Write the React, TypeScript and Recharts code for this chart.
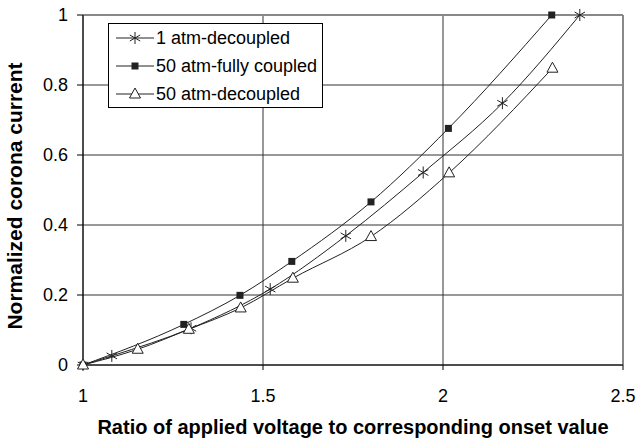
import React from "react";
import {
  LineChart,
  Line,
  XAxis,
  YAxis,
  CartesianGrid,
  ReferenceLine,
} from "recharts";

const atm1Ratio = [1, 1.08, 1.3, 1.52, 1.73, 1.945, 2.165, 2.38];
const atm1Current = [0, 0.026, 0.105, 0.217, 0.369, 0.55, 0.748, 1.0];

const coupledRatio = [1, 1.28, 1.436, 1.58, 1.8, 2.015, 2.302];
const coupledCurrent = [0, 0.116, 0.199, 0.296, 0.466, 0.676, 1.0];

const decoupledRatio = [1, 1.152, 1.294, 1.438, 1.583, 1.8, 2.017, 2.304];
const decoupledCurrent = [0, 0.045, 0.102, 0.163, 0.248, 0.367, 0.549, 0.848];

const xTicks = [1, 1.5, 2, 2.5];
const yTicks = [0, 0.2, 0.4, 0.6, 0.8, 1];

const toPoints = (xs: number[], ys: number[]) =>
  xs.map((x, i) => ({ ratio: x, current: ys[i] }));

const atm1 = toPoints(atm1Ratio, atm1Current);
const coupled = toPoints(coupledRatio, coupledCurrent);
const decoupled = toPoints(decoupledRatio, decoupledCurrent);

const INK = "#222";
const FONT = "'Liberation Sans', Arial, sans-serif";

const Star = ({ cx, cy }: any) => {
  if (cx == null || cy == null) return null;
  const r = 6;
  const dx = r * 0.866;
  const dy = r * 0.5;
  return (
    <g stroke={INK} strokeWidth={1}>
      <line x1={cx} y1={cy - r} x2={cx} y2={cy + r} />
      <line x1={cx - dx} y1={cy - dy} x2={cx + dx} y2={cy + dy} />
      <line x1={cx - dx} y1={cy + dy} x2={cx + dx} y2={cy - dy} />
    </g>
  );
};

const Square = ({ cx, cy }: any) => {
  if (cx == null || cy == null) return null;
  return <rect x={cx - 3.5} y={cy - 3.5} width={7} height={7} fill={INK} />;
};

const Triangle = ({ cx, cy }: any) => {
  if (cx == null || cy == null) return null;
  return (
    <polygon
      points={`${cx},${cy - 6} ${cx - 5.5},${cy + 4} ${cx + 5.5},${cy + 4}`}
      fill="#fff"
      stroke={INK}
      strokeWidth={1}
    />
  );
};

const legendRows = [
  { name: "1 atm-decoupled", Marker: Star },
  { name: "50 atm-fully coupled", Marker: Square },
  { name: "50 atm-decoupled", Marker: Triangle },
];

const LegendBox = () => (
  <div
    style={{
      position: "absolute",
      left: 108,
      top: 23,
      width: 215,
      height: 85,
      border: "1px solid #000",
      background: "#fff",
      boxSizing: "border-box",
      fontFamily: FONT,
      fontSize: 18,
      color: "#000",
    }}
  >
    {legendRows.map((row, i) => (
      <div
        key={row.name}
        style={{
          position: "absolute",
          left: 6,
          top: 2 + i * 28,
          height: 24,
          display: "flex",
          alignItems: "center",
          whiteSpace: "nowrap",
        }}
      >
        <svg width={40} height={24}>
          <line x1={1} y1={12} x2={39} y2={12} stroke={INK} strokeWidth={1} />
          <row.Marker cx={20} cy={12} />
        </svg>
        <span style={{ marginLeft: 1 }}>{row.name}</span>
      </div>
    ))}
  </div>
);

export default function App() {
  return (
    <div
      style={{
        position: "absolute",
        left: 0,
        top: 0,
        width: 639,
        height: 441,
        background: "#fff",
      }}
    >
      <LineChart
        width={639}
        height={441}
        margin={{ top: 15, right: 16, left: 0, bottom: 0 }}
      >
        <CartesianGrid stroke="#333" strokeWidth={1} />
        <XAxis
          dataKey="ratio"
          type="number"
          domain={[1, 2.5]}
          ticks={xTicks}
          height={76}
          stroke="#000"
          tickSize={5}
          tickMargin={19}
          tick={{ fill: "#000", fontSize: 18, fontFamily: FONT }}
          label={{
            value: "Ratio of applied voltage to corresponding onset value",
            position: "insideBottom",
            offset: 7,
            fill: "#000",
            fontSize: 20,
            fontWeight: "bold",
            fontFamily: FONT,
          }}
        />
        <YAxis
          type="number"
          domain={[0, 1]}
          ticks={yTicks}
          width={83}
          stroke="#000"
          tickSize={6}
          tickMargin={9}
          tick={{ fill: "#000", fontSize: 18, fontFamily: FONT }}
          label={{
            content: ({ viewBox }: any) => {
              const cx = (viewBox?.x ?? 0) + 22;
              const cy = 196;
              return (
                <text
                  x={cx}
                  y={cy}
                  transform={`rotate(-90 ${cx} ${cy})`}
                  textAnchor="middle"
                  fill="#000"
                  fontSize={21}
                  fontWeight="bold"
                  fontFamily={FONT}
                >
                  Normalized corona current
                </text>
              );
            },
          }}
        />
        <ReferenceLine y={1} stroke="#888" strokeWidth={2} />
        <ReferenceLine x={2.5} stroke="#888" strokeWidth={2} />
        <Line
          data={atm1}
          dataKey="current"
          name="1 atm-decoupled"
          type="monotone"
          stroke={INK}
          strokeWidth={1}
          dot={<Star />}
          isAnimationActive={false}
        />
        <Line
          data={coupled}
          dataKey="current"
          name="50 atm-fully coupled"
          type="monotone"
          stroke={INK}
          strokeWidth={1}
          dot={<Square />}
          isAnimationActive={false}
        />
        <Line
          data={decoupled}
          dataKey="current"
          name="50 atm-decoupled"
          type="monotone"
          stroke={INK}
          strokeWidth={1}
          dot={<Triangle />}
          isAnimationActive={false}
        />
      </LineChart>
      <LegendBox />
    </div>
  );
}
